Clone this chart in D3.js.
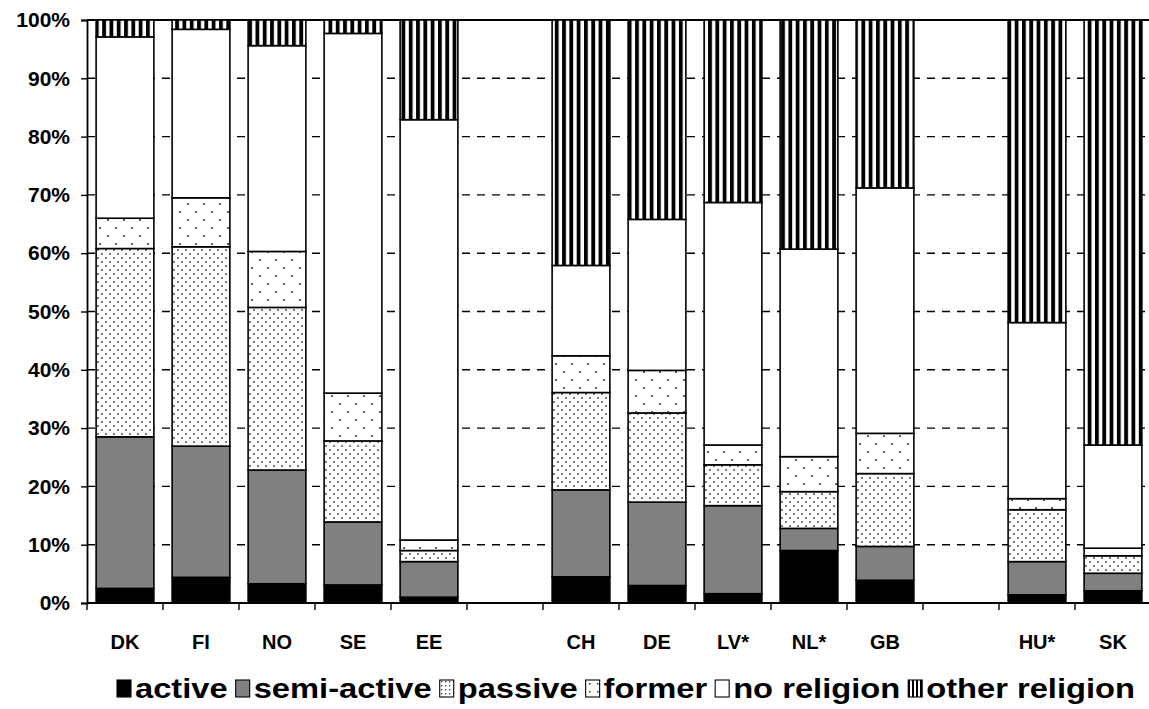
<!DOCTYPE html>
<html><head><meta charset="utf-8">
<script src="https://cdn.jsdelivr.net/npm/d3@7"></script>
<style>body{margin:0;background:#fff} svg{display:block} text{font-family:"Liberation Sans",Arial,sans-serif;font-weight:bold;fill:#000}</style>
</head><body>
<svg id="chart" width="1149" height="709"></svg>
<script>
// ---- data ----
const categories = ["DK","FI","NO","SE","EE","","CH","DE","LV*","NL*","GB","","HU*","SK"];
const seriesNames = ["active","semi-active","passive","former","no religion","other religion"];
const active        = [2.5, 4.4, 3.3, 3.1, 1.0, null, 4.5, 3.0, 1.6, 9.0, 3.9, null, 1.4, 2.1];
const semiActive    = [26.0,22.5,19.5,10.8, 6.1, null,14.9,14.3,15.1, 3.8, 5.8, null, 5.7, 3.0];
const passive       = [32.3,34.2,27.9,13.9, 1.9, null,16.7,15.3, 7.0, 6.3,12.5, null, 8.9, 3.0];
const former        = [5.2, 8.4, 9.6, 8.2, 1.8, null, 6.3, 7.3, 3.4, 6.0, 6.9, null, 1.9, 1.3];
const noReligion    = [31.1,28.9,35.3,61.7,72.1, null,15.5,25.9,41.6,35.6,42.1, null,30.2,17.7];
const otherReligion = [2.9, 1.6, 4.4, 2.3,17.1, null,42.1,34.2,31.3,39.3,28.8, null,51.9,72.9];
const yTicks = [0,10,20,30,40,50,60,70,80,90,100];

const seriesValues = [active, semiActive, passive, former, noReligion, otherReligion];
const table = categories.map((c,i)=>{
  const row = {idx:i, cat:c, blank: active[i]==null};
  seriesNames.forEach((s,k)=>row[s]= seriesValues[k][i]||0);
  return row;
});

const svg = d3.select("#chart");
const mLeft=87, mRight=1151, mTop=20, mBottom=603;

// patterns
const defs = svg.append("defs");
const pPassive = defs.append("pattern").attr("id","pPassive").attr("patternUnits","userSpaceOnUse")
  .attr("width",8).attr("height",8);
pPassive.append("rect").attr("width",8).attr("height",8).attr("fill","#fff");
[[2,2],[6,6]].forEach(([cx,cy])=>pPassive.append("rect").attr("x",cx-0.8).attr("y",cy-0.8).attr("width",1.6).attr("height",1.6).attr("fill","#333"));
const pFormer = defs.append("pattern").attr("id","pFormer").attr("patternUnits","userSpaceOnUse")
  .attr("width",16).attr("height",16);
pFormer.append("rect").attr("width",16).attr("height",16).attr("fill","#fff");
[[4,4],[12,12]].forEach(([cx,cy])=>pFormer.append("rect").attr("x",cx-0.8).attr("y",cy-0.8).attr("width",1.7).attr("height",1.7).attr("fill","#222"));
const pOther = defs.append("pattern").attr("id","pOther").attr("patternUnits","userSpaceOnUse")
  .attr("width",7.3).attr("height",10);
pOther.append("rect").attr("width",7.3).attr("height",10).attr("fill","#fff");
pOther.append("rect").attr("x",0).attr("width",3.8).attr("height",10).attr("fill","#000");
// legend-sized patterns
const lPassive = defs.append("pattern").attr("id","lPassive").attr("patternUnits","userSpaceOnUse").attr("width",4).attr("height",4);
lPassive.append("rect").attr("width",4).attr("height",4).attr("fill","#fff");
lPassive.append("rect").attr("x",1).attr("y",1).attr("width",1.3).attr("height",1.3).attr("fill","#333");
const lFormer = defs.append("pattern").attr("id","lFormer").attr("patternUnits","userSpaceOnUse").attr("width",8).attr("height",8);
lFormer.append("rect").attr("width",8).attr("height",8).attr("fill","#fff");
lFormer.append("rect").attr("x",5).attr("y",3).attr("width",1.5).attr("height",1.5).attr("fill","#222");
const lOther = defs.append("pattern").attr("id","lOther").attr("patternUnits","userSpaceOnUse").attr("width",4).attr("height",10);
lOther.append("rect").attr("width",4).attr("height",10).attr("fill","#fff");
lOther.append("rect").attr("width",2).attr("height",10).attr("fill","#000");

const fills = {"active":"#000","semi-active":"#808080","passive":"url(#pPassive)","former":"url(#pFormer)","no religion":"#fff","other religion":"url(#pOther)"};

const x = d3.scaleBand().domain(d3.range(categories.length)).range([mLeft,mRight]).paddingInner(0.24).paddingOuter(0.12);
const y = d3.scaleLinear().domain([0,100]).range([mBottom,mTop]);

// gridlines
svg.append("g").selectAll("line").data(yTicks.filter(t=>t>0&&t<100)).join("line")
  .attr("x1",mLeft).attr("x2",mRight).attr("y1",d=>y(d)).attr("y2",d=>y(d))
  .attr("stroke","#000").attr("stroke-width",1.4).attr("stroke-dasharray","8,7");
// top border
svg.append("line").attr("x1",mLeft).attr("x2",mRight).attr("y1",y(100)).attr("y2",y(100)).attr("stroke","#000").attr("stroke-width",1.8);

// bars
const stack = d3.stack().keys(seriesNames);
const stacked = stack(table.filter(d=>!d.blank));
const gBars = svg.append("g");
stacked.forEach(s=>{
  gBars.selectAll(null).data(s).join("rect")
    .attr("x",d=>x(d.data.idx)).attr("width",x.bandwidth())
    .attr("y",d=>y(d[1])).attr("height",d=>y(d[0])-y(d[1]))
    .attr("fill",fills[s.key]).attr("stroke","#000").attr("stroke-width",1.6);
});

// y axis
const yAxis = d3.axisLeft(y).tickValues(yTicks).tickFormat(d=>d+"%").tickSize(6).tickPadding(11);
const gy = svg.append("g").attr("transform",`translate(${mLeft},0)`).call(yAxis);
gy.select(".domain").attr("stroke","#000").attr("stroke-width",1.8);
gy.selectAll(".tick line").attr("stroke","#000").attr("stroke-width",1.4);
gy.selectAll(".tick text").style("font-size","21px").style("font-family","Liberation Sans, Arial, sans-serif").style("font-weight","bold").attr("fill","#000");

// x axis
const xAxis = d3.axisBottom(x).tickFormat(i=>categories[i]).tickSize(0).tickPadding(32);
const gx = svg.append("g").attr("transform",`translate(0,${mBottom})`).call(xAxis);
gx.select(".domain").remove();
gx.selectAll(".tick text").style("font-size","20px").style("font-family","Liberation Sans, Arial, sans-serif").style("font-weight","bold").attr("fill","#000");
svg.append("line").attr("x1",mLeft).attr("x2",mRight).attr("y1",mBottom).attr("y2",mBottom).attr("stroke","#000").attr("stroke-width",1.8);
const bounds = d3.range(categories.length+1).map(i=> i<categories.length ? x(i)-x.step()*x.paddingInner()/2 : x(i-1)+x.bandwidth()+x.step()*x.paddingInner()/2);
svg.append("g").selectAll("line").data(bounds).join("line")
  .attr("x1",d=>d).attr("x2",d=>d).attr("y1",mBottom).attr("y2",mBottom+7).attr("stroke","#000").attr("stroke-width",1.4);

// legend
const legFills = {"active":"#000","semi-active":"#808080","passive":"url(#lPassive)","former":"url(#lFormer)","no religion":"#fff","other religion":"url(#lOther)"};
const gL = svg.append("g");
const legStart = 117, legEnd = 1135, ly = 698, boxW = 14, boxGap = 4, itemGap = 8;
const texts = seriesNames.map(name=> gL.append("text").attr("y",ly).style("font-size","28px").text(name));
const natural = texts.map(t=>t.node().getComputedTextLength());
const avail = (legEnd-legStart) - seriesNames.length*(boxW+boxGap) - (seriesNames.length-1)*itemGap;
const stretch = avail/d3.sum(natural);
let cx = legStart;
seriesNames.forEach((name,i)=>{
  gL.append("rect").attr("x",cx).attr("y",ly-18).attr("width",boxW).attr("height",17)
    .attr("fill",legFills[name]).attr("stroke","#000").attr("stroke-width",1.1);
  const w = natural[i]*stretch;
  texts[i].attr("x",cx+boxW+boxGap).attr("textLength",w).attr("lengthAdjust","spacingAndGlyphs");
  cx += boxW + boxGap + w + itemGap;
});
</script>
</body></html>
